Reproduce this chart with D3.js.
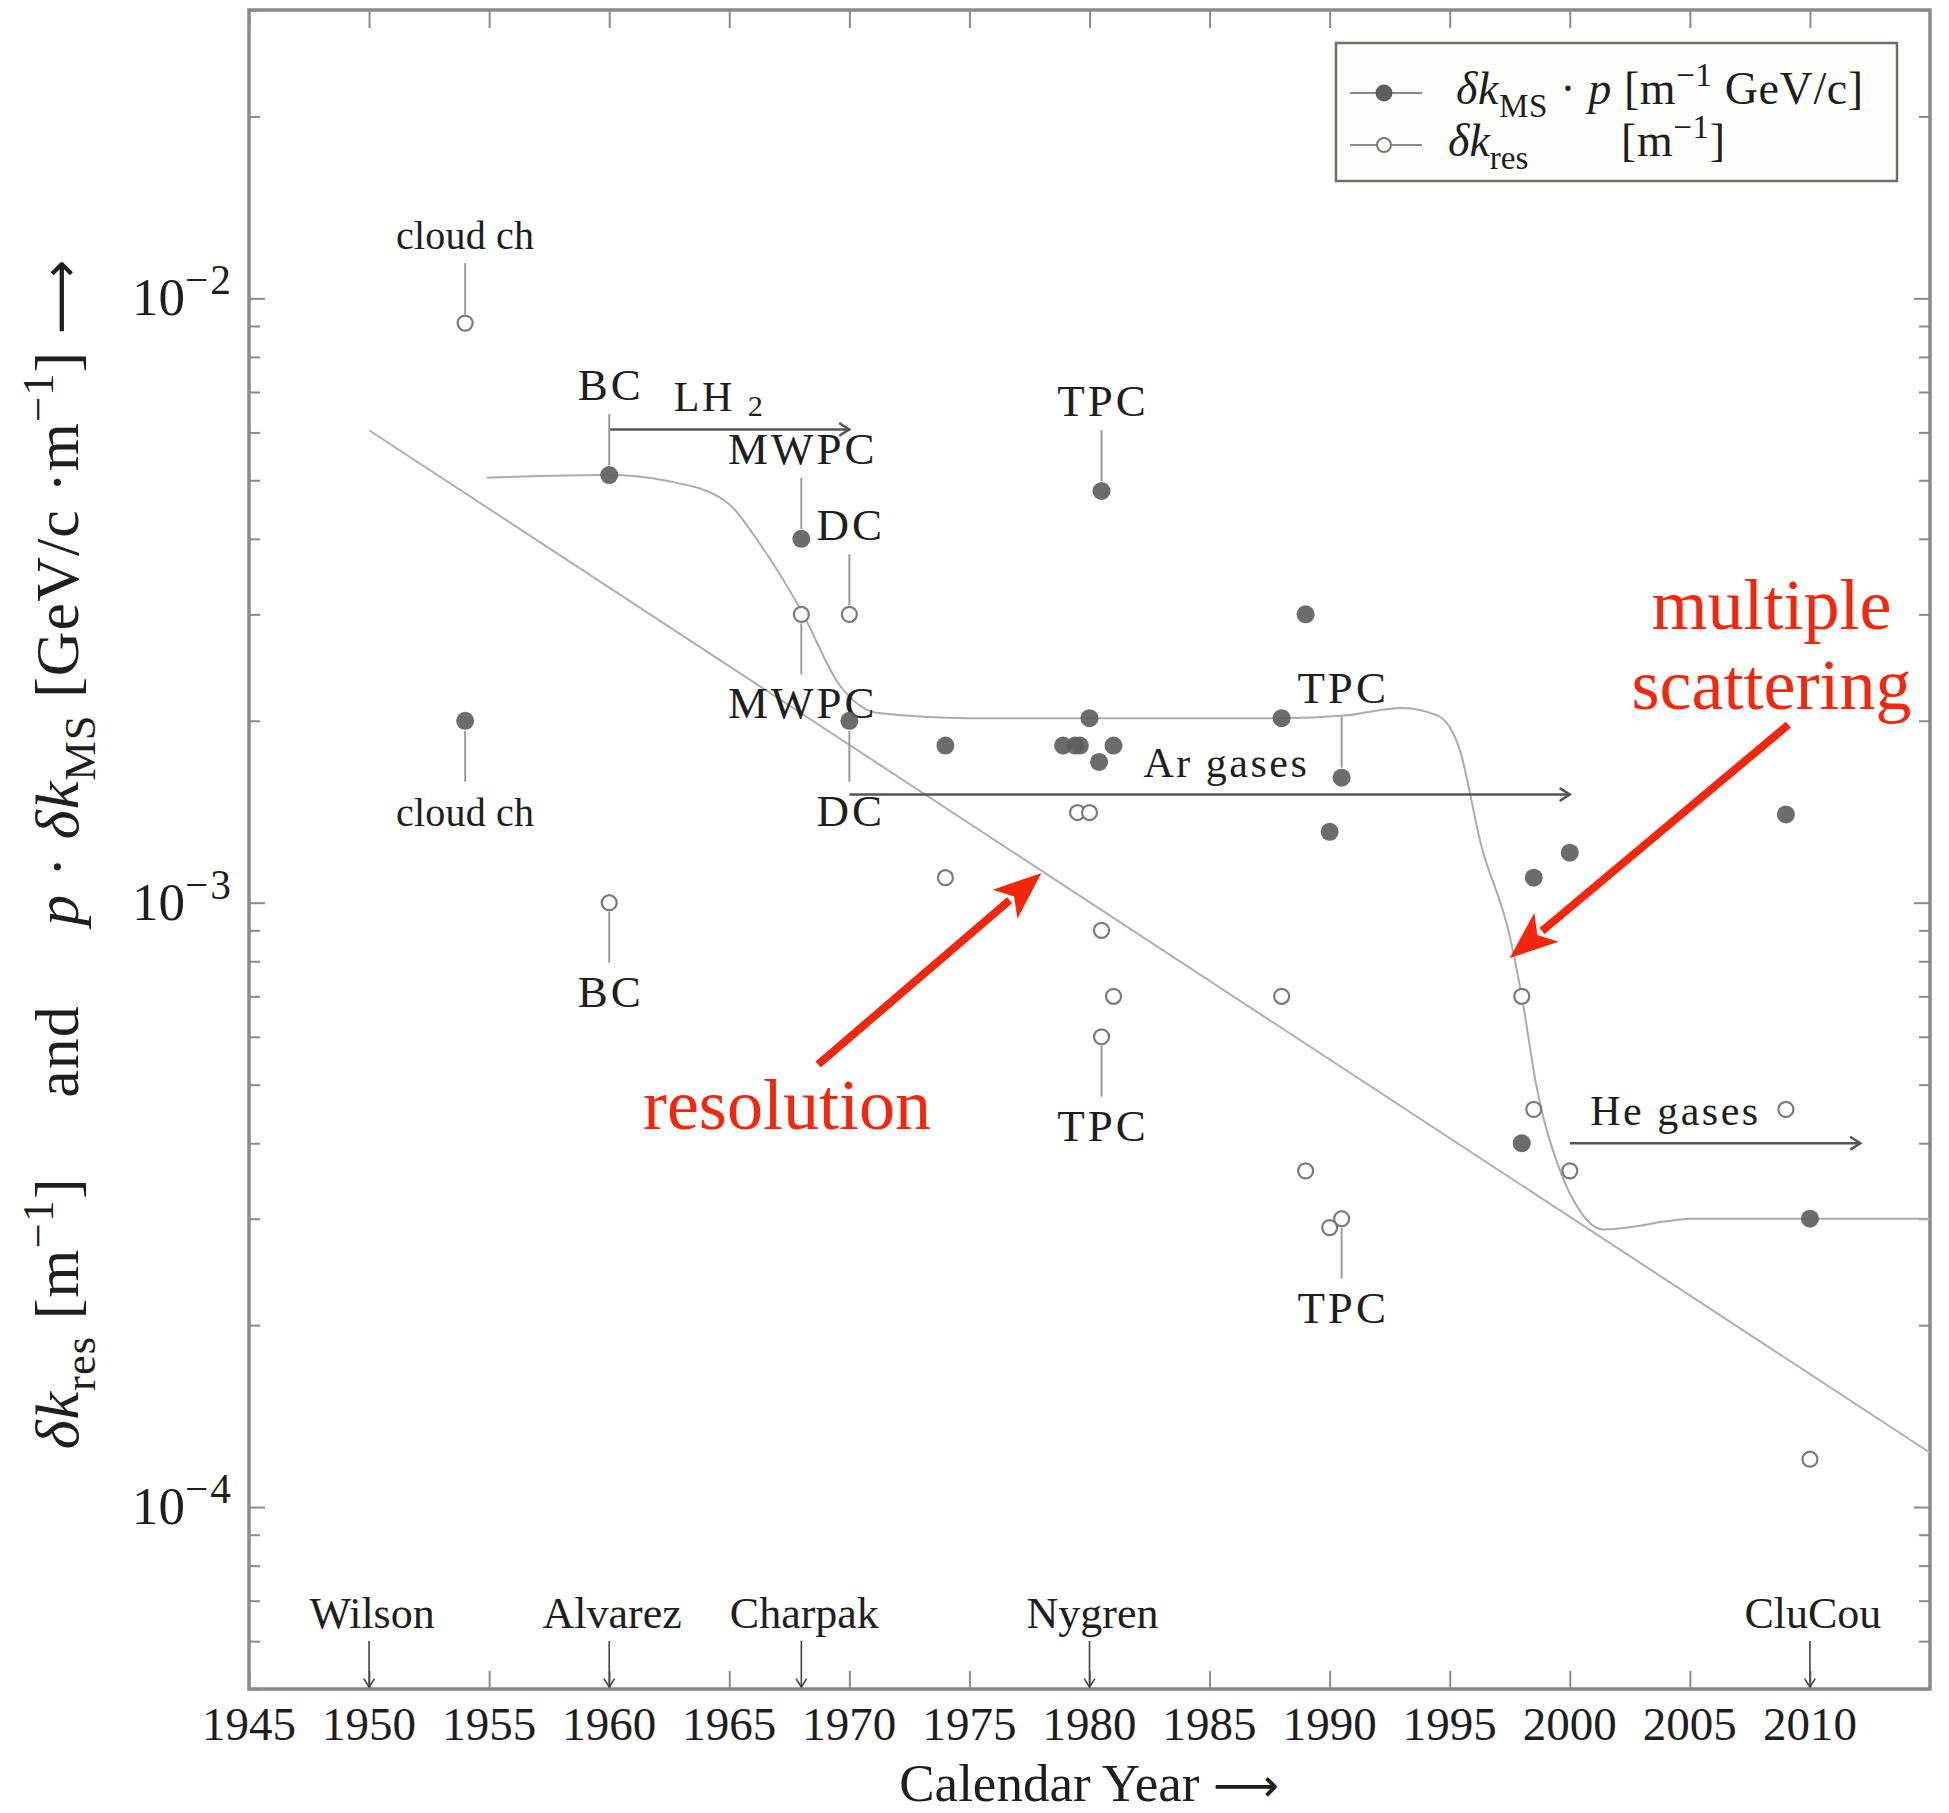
<!DOCTYPE html>
<html><head><meta charset="utf-8">
<script src="https://cdn.jsdelivr.net/npm/d3@7"></script>
<style>
html,body{margin:0;padding:0;background:#fff;}
svg{display:block;}
text{font-family:"Liberation Serif","DejaVu Serif",serif;}
</style></head><body>
<svg id="chart" width="1949" height="1813"></svg>
<script>
// Momentum-independent curvature error δk_MS·p (filled markers)
const msYears  = [1954, 1960, 1968, 1970, 1974, 1978.9, 1979.4, 1979.6, 1980, 1980.4, 1981, 1980.5, 1988, 1989, 1990, 1990.5, 1998, 1998.5, 2000, 2009, 2010];
const msValues = [2.0e-3, 5.1e-3, 4.0e-3, 2.0e-3, 1.82e-3, 1.82e-3, 1.82e-3, 1.82e-3, 2.02e-3, 1.71e-3, 1.82e-3, 4.8e-3, 2.02e-3, 3.0e-3, 1.31e-3, 1.61e-3, 4.0e-4, 1.1e-3, 1.21e-3, 1.4e-3, 3.0e-4];

// Resolution term δk_res (open markers)
const resYears  = [1954, 1960, 1968, 1970, 1974, 1979.5, 1980, 1980.5, 1981, 1980.5, 1988, 1989, 1990, 1990.5, 1998, 1998.5, 2000, 2009, 2010];
const resValues = [9.1e-3, 1.0e-3, 3.0e-3, 3.0e-3, 1.1e-3, 1.41e-3, 1.41e-3, 9.0e-4, 7.0e-4, 6.0e-4, 7.0e-4, 3.6e-4, 2.9e-4, 3.0e-4, 7.0e-4, 4.55e-4, 3.6e-4, 4.55e-4, 1.2e-4];

// Multiple-scattering trend curve (knots)
const msCurveYears  = [1954.9, 1960, 1962.4, 1964.8, 1966.4, 1968, 1969.6, 1971.2, 1975, 1980, 1988, 1990.6, 1993, 1994.5, 1995.4, 1996.3, 1997.5, 1998, 1998.6, 1999.6, 2000.4, 2001.4, 2002.4, 2004, 2005, 2015];
const msCurveValues = [5.05e-3, 5.1e-3, 4.99e-3, 4.63e-3, 3.86e-3, 3.04e-3, 2.29e-3, 2.06e-3, 2.02e-3, 2.02e-3, 2.02e-3, 2.04e-3, 2.1e-3, 2.04e-3, 1.8e-3, 1.25e-3, 8.8e-4, 7.0e-4, 5.0e-4, 3.6e-4, 3.1e-4, 2.88e-4, 2.9e-4, 2.97e-4, 3.0e-4, 3.0e-4];

// Resolution trend line
const resLineYears  = [1950, 2015];
const resLineValues = [6.05e-3, 1.23e-4];

// Axis ticks
const yearTicks = [1945, 1950, 1955, 1960, 1965, 1970, 1975, 1980, 1985, 1990, 1995, 2000, 2005, 2010];
const decadeExponents = [-4, -3, -2];

// Detector labels attached to individual measurements
const detectorLabels = [
  {text: "cloud ch", year: 1954,   value: 9.1e-3,  side: "above", open: true},
  {text: "cloud ch", year: 1954,   value: 2.0e-3,  side: "below", open: false},
  {text: "BC",       year: 1960,   value: 5.1e-3,  side: "above", open: false},
  {text: "BC",       year: 1960,   value: 1.0e-3,  side: "below", open: true},
  {text: "MWPC",     year: 1968,   value: 4.0e-3,  side: "above", open: false},
  {text: "MWPC",     year: 1968,   value: 3.0e-3,  side: "below", open: true},
  {text: "DC",       year: 1970,   value: 3.0e-3,  side: "above", open: true},
  {text: "DC",       year: 1970,   value: 2.0e-3,  side: "below", open: false},
  {text: "TPC",      year: 1980.5, value: 4.8e-3,  side: "above", open: false},
  {text: "TPC",      year: 1980.5, value: 6.0e-4,  side: "below", open: true},
  {text: "TPC",      year: 1990.5, value: 1.61e-3, side: "above", open: false},
  {text: "TPC",      year: 1990.5, value: 3.0e-4,  side: "below", open: true}
];

// Gas eras
const gasEras = [
  {name: "LH", sub: "2", from: 1960, to: 1970,   value: 6.07e-3, labelAt: 1964.6},
  {name: "Ar gases",     from: 1970, to: 2000,   value: 1.51e-3, labelAt: 1985.7},
  {name: "He gases",     from: 2000, to: 2012.1, value: 4.0e-4,  labelAt: 2004.4}
];

// Inventors marked on the time axis
const inventors = [
  {name: "Wilson",  year: 1950},
  {name: "Alvarez", year: 1960},
  {name: "Charpak", year: 1968},
  {name: "Nygren",  year: 1980},
  {name: "CluCou",  year: 2010}
];

// Red call-outs: [year, value] of text anchor, arrow tail and arrow tip
const callouts = [
  {text: ["resolution"], textAt: [1967.4, 4.22e-4], tail: [1968.7, 5.4e-4], tip: [1978.0, 1.12e-3]},
  {text: ["multiple", "scattering"], textAt: [2008.4, 2.84e-3], tail: [2009.1, 1.97e-3], tip: [1997.5, 8.1e-4]}
];

const W = 1949, H = 1813;
const L = 249, R = 1930, T = 10, B = 1689;
const svg = d3.select("#chart");

const x = d3.scaleLinear().domain([1945, 2015]).range([L, R]);
const y = d3.scaleLog().domain([5e-5, 0.03]).range([B, T]);

const frameColor = "#8a8a8a";
const textColor = "#1e1e1e";

// rich text helper: segments with italic / sub / sup
function rich(sel, segs, size) {
  let shift = 0;
  segs.forEach(s => {
    const t = sel.append("tspan").text(s.t);
    let target = 0, fs = size;
    if (s.sub) { target = size * (s.shift != null ? s.shift : 0.28); fs = size * 0.72; }
    if (s.sup) { target = -size * 0.4; fs = size * (s.scale || 0.72); }
    t.attr("font-size", fs);
    if (s.it) t.attr("font-style", "italic");
    if (s.ls) t.attr("letter-spacing", s.ls);
    const dy = target - shift;
    if (dy) t.attr("dy", dy);
    shift = target;
  });
  return sel;
}

// ---- axes ----
const axes = svg.append("g");
const xBottom = d3.axisBottom(x).tickValues(yearTicks).tickSize(18).tickFormat("");
const xTop = d3.axisTop(x).tickValues(yearTicks).tickSize(18).tickFormat("");
axes.append("g").attr("transform", `translate(0,${B})`).call(xBottom)
  .call(g => g.selectAll(".tick line").attr("y2", -18));
axes.append("g").attr("transform", `translate(0,${T})`).call(xTop)
  .call(g => g.selectAll(".tick line").attr("y2", 18));

const minorVals = [];
[-5, -4, -3, -2].forEach(e => { for (let m = 1; m <= 9; m++) { const v = m * Math.pow(10, e); if (v >= 5e-5 && v <= 0.03) minorVals.push(v); } });
const yLeft = d3.axisLeft(y).tickValues(minorVals).tickFormat("");
const yRight = d3.axisRight(y).tickValues(minorVals).tickFormat("");
const tickLen = v => (Math.abs(Math.log10(v) - Math.round(Math.log10(v))) < 1e-9 ? 16 : 11);
axes.append("g").attr("transform", `translate(${L},0)`).call(yLeft)
  .call(g => g.selectAll(".tick line").attr("x2", d => tickLen(d)));
axes.append("g").attr("transform", `translate(${R},0)`).call(yRight)
  .call(g => g.selectAll(".tick line").attr("x2", d => -tickLen(d)));
axes.selectAll(".domain").remove();
axes.selectAll(".tick line").attr("stroke", frameColor).attr("stroke-width", 2);

// frame
svg.append("rect").attr("x", L).attr("y", T).attr("width", R - L).attr("height", B - T)
  .attr("fill", "none").attr("stroke", frameColor).attr("stroke-width", 3.5);

// x tick labels
svg.append("g").selectAll("text").data(yearTicks).join("text")
  .attr("x", d => x(d)).attr("y", B + 51).attr("text-anchor", "middle")
  .attr("font-size", 47).attr("fill", textColor).text(d => d);

// y tick labels 10^e
decadeExponents.forEach(e => {
  const t = svg.append("text").attr("x", L - 16).attr("y", y(Math.pow(10, e)) + 17)
    .attr("text-anchor", "end").attr("fill", textColor);
  rich(t, [{t: "10"}, {t: "\u2212" + (-e), sup: true, scale: 0.78, ls: 2}], 53);
});

// axis titles
const xt = svg.append("text").attr("x", 1089).attr("y", 1801).attr("text-anchor", "middle")
  .attr("font-size", 53).attr("fill", textColor);
xt.append("tspan").text("Calendar Year ");
xt.append("tspan").attr("font-family", "DejaVu Sans").attr("font-size", 46).text("\u27F6");

const yt = svg.append("text").attr("transform", "translate(78,854) rotate(-90)")
  .attr("text-anchor", "middle").attr("fill", textColor).attr("letter-spacing", 1);
rich(yt, [
  {t: "\u03B4k", it: true}, {t: "res", sub: true}, {t: " [m"}, {t: "\u22121", sup: true}, {t: "]\u2003 and \u2003"},
  {t: "p", it: true}, {t: " \u00B7 "}, {t: "\u03B4k", it: true}, {t: "MS", sub: true},
  {t: " [GeV/c \u00B7m"}, {t: "\u22121", sup: true}, {t: "] "}
], 62);
yt.append("tspan").attr("font-family", "DejaVu Sans").attr("font-size", 52).text("\u27F6");

// ---- trend curves ----
const line = d3.line().x(d => x(d[0])).y(d => y(d[1]));
svg.append("path").datum(resLineYears.map((yr, i) => [yr, resLineValues[i]]))
  .attr("d", line).attr("fill", "none").attr("stroke", "#b0b0b0").attr("stroke-width", 2);
svg.append("path").datum(msCurveYears.map((yr, i) => [yr, msCurveValues[i]]))
  .attr("d", line.curve(d3.curveMonotoneX)).attr("fill", "none").attr("stroke", "#acacac").attr("stroke-width", 2);

// ---- gas era arrows ----
function chevron(g, x0, y0, dir, size, color, w) {
  const a1 = dir + Math.PI * 0.82, a2 = dir - Math.PI * 0.82;
  g.append("path")
    .attr("d", `M${x0 + size * Math.cos(a1)},${y0 + size * Math.sin(a1)} L${x0},${y0} L${x0 + size * Math.cos(a2)},${y0 + size * Math.sin(a2)}`)
    .attr("fill", "none").attr("stroke", color).attr("stroke-width", w);
}
const eras = svg.append("g");
gasEras.forEach(e => {
  const yy = y(e.value);
  eras.append("line").attr("x1", x(e.from)).attr("x2", x(e.to)).attr("y1", yy).attr("y2", yy)
    .attr("stroke", "#555").attr("stroke-width", 2.5);
  chevron(eras, x(e.to), yy, 0, 12, "#555", 2.5);
  const t = eras.append("text").attr("x", x(e.labelAt)).attr("y", yy - 18).attr("text-anchor", "middle")
    .attr("fill", textColor).attr("letter-spacing", 2.5);
  const segs = [{t: e.name}];
  if (e.sub) segs.push({t: " "}, {t: e.sub, sub: true, shift: 0.12});
  rich(t, segs, 42);
});

// ---- detector label leaders ----
const leaders = svg.append("g");
detectorLabels.forEach(d => {
  const px = x(d.year), py = y(d.value);
  const r = d.open ? 9 : 10;
  const len = 51;
  let y1, y2, ty;
  if (d.side === "above") { y2 = py - r; y1 = y2 - len; ty = y1 - 14; }
  else { y1 = py + r; y2 = y1 + len; ty = y2 + 44; }
  const caps = d.text === d.text.toUpperCase();
  leaders.append("line").attr("x1", px).attr("x2", px).attr("y1", y1).attr("y2", y2)
    .attr("stroke", "#9a9a9a").attr("stroke-width", 2);
  leaders.append("text").attr("x", px + (caps ? 1.5 : 0)).attr("y", ty).attr("text-anchor", "middle")
    .attr("font-size", caps ? 45 : 40).attr("letter-spacing", caps ? 3 : 0.2)
    .attr("fill", textColor).text(d.text);
});

// ---- measurement markers ----
svg.append("g").selectAll("circle").data(resYears.map((yr, i) => [yr, resValues[i]])).join("circle")
  .attr("cx", d => x(d[0])).attr("cy", d => y(d[1])).attr("r", 7.5)
  .attr("fill", "#fff").attr("stroke", "#7a7a7a").attr("stroke-width", 2.2);
svg.append("g").selectAll("circle").data(msYears.map((yr, i) => [yr, msValues[i]])).join("circle")
  .attr("cx", d => x(d[0])).attr("cy", d => y(d[1])).attr("r", 9)
  .attr("fill", "#5f5f5f").attr("fill-opacity", 0.92);

// ---- inventors on the time axis ----
const inv = svg.append("g");
inventors.forEach(p => {
  const px = x(p.year);
  inv.append("text").attr("x", px + 3).attr("y", B - 61).attr("text-anchor", "middle")
    .attr("font-size", 44).attr("fill", textColor).text(p.name);
  inv.append("line").attr("x1", px).attr("x2", px).attr("y1", B - 48).attr("y2", B - 2)
    .attr("stroke", "#444").attr("stroke-width", 1.6);
  chevron(inv, px, B - 2, Math.PI / 2, 10, "#444", 1.6);
});

// ---- red call-outs ----
const red = "#f5260c";
const co = svg.append("g");
callouts.forEach(c => {
  const x0 = x(c.tail[0]), y0 = y(c.tail[1]), x1 = x(c.tip[0]), y1 = y(c.tip[1]);
  const ang = Math.atan2(y1 - y0, x1 - x0);
  const hl = 48, hw = 19;
  const bx = x1 - hl * Math.cos(ang), by = y1 - hl * Math.sin(ang);
  co.append("line").attr("x1", x0).attr("y1", y0).attr("x2", bx + 6 * Math.cos(ang)).attr("y2", by + 6 * Math.sin(ang))
    .attr("stroke", red).attr("stroke-width", 8);
  const nx = -Math.sin(ang), ny = Math.cos(ang);
  co.append("path")
    .attr("d", `M${x1},${y1} L${bx + hw * nx},${by + hw * ny} L${x1 - hl * 0.75 * Math.cos(ang)},${y1 - hl * 0.75 * Math.sin(ang)} L${bx - hw * nx},${by - hw * ny} Z`)
    .attr("fill", red);
  const t = co.append("text").attr("x", x(c.textAt[0])).attr("y", y(c.textAt[1]))
    .attr("text-anchor", "middle").attr("font-size", 72).attr("fill", red);
  c.text.forEach((s, i) => t.append("tspan").attr("x", x(c.textAt[0])).attr("dy", i ? 80 : 0).text(s));
});

// ---- legend ----
const lg = svg.append("g");
lg.append("rect").attr("x", 1336).attr("y", 43).attr("width", 561).attr("height", 138)
  .attr("fill", "#fdfdfa").attr("stroke", "#6e6e6e").attr("stroke-width", 2.5);
[[93, false], [145, true]].forEach(([ly, open]) => {
  lg.append("line").attr("x1", 1350).attr("x2", 1422).attr("y1", ly).attr("y2", ly)
    .attr("stroke", "#8a8a8a").attr("stroke-width", 2);
  lg.append("circle").attr("cx", 1384).attr("cy", ly).attr("r", open ? 7 : 8.5)
    .attr("fill", open ? "#fff" : "#5f5f5f").attr("stroke", open ? "#7a7a7a" : "none").attr("stroke-width", 2);
});
rich(lg.append("text").attr("x", 1456).attr("y", 104).attr("fill", textColor).attr("letter-spacing", 0.6),
  [{t: "\u03B4k", it: true}, {t: "MS", sub: true}, {t: " \u00B7 "}, {t: "p", it: true}, {t: " [m"}, {t: "\u22121", sup: true}, {t: " GeV/c]"}], 46);
rich(lg.append("text").attr("x", 1448).attr("y", 156).attr("fill", textColor),
  [{t: "\u03B4k", it: true}, {t: "res", sub: true}], 46);
rich(lg.append("text").attr("x", 1621).attr("y", 156).attr("fill", textColor).attr("letter-spacing", 0.6),
  [{t: "[m"}, {t: "\u22121", sup: true}, {t: "]"}], 46);
</script>
</body></html>
